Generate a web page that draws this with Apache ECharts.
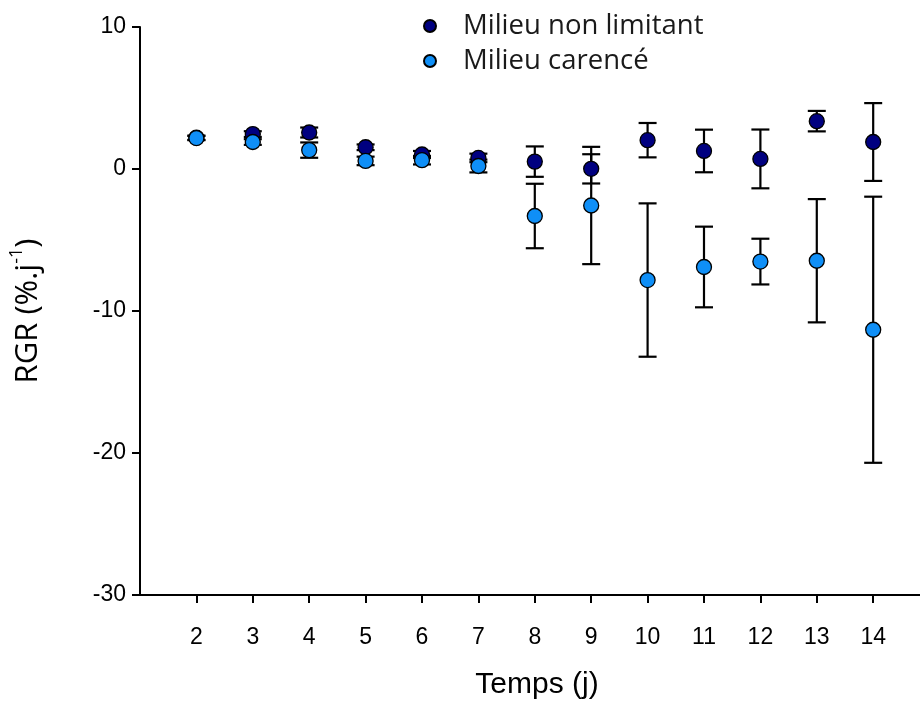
<!DOCTYPE html>
<html>
<head>
<meta charset="utf-8">
<script src="https://cdn.jsdelivr.net/npm/echarts@6/dist/echarts.min.js"></script>
<style>
  html, body { margin: 0; padding: 0; background: #fff; }
  #chart { width: 920px; height: 702px; }
</style>
</head>
<body>
<div id="chart"></div>
<script>
// Days of measurement
const days = [2, 3, 4, 5, 6, 7, 8, 9, 10, 11, 12, 13, 14];
// Relative growth rate, non-limiting medium (mean and error)
const nonLimitant = [2.2, 2.46, 2.57, 1.53, 1.02, 0.78, 0.52, 0.01, 2.03, 1.27, 0.71, 3.37, 1.9];
const nonLimitantErr = [0.15, 0.2, 0.35, 0.2, 0.25, 0.3, 1.07, 1.03, 1.21, 1.5, 2.07, 0.72, 2.74];
// Relative growth rate, deficient medium (mean and error)
const carence = [2.18, 1.9, 1.33, 0.57, 0.62, 0.21, -3.31, -2.57, -7.82, -6.9, -6.52, -6.46, -11.32];
const carenceErr = [0.15, 0.2, 0.54, 0.3, 0.3, 0.45, 2.27, 4.13, 5.4, 2.84, 1.61, 4.34, 9.37];
// Axis ticks
const xTicks = days;
const yTicks = [-30, -20, -10, 0, 10];

const DARK = '#000080';
const LIGHT = '#0f8ff7';
const AXIS_FONT = 'Liberation Sans, Arial, sans-serif';

function errorData(vals, errs) {
  return days.map((d, i) => [d, vals[i] - errs[i], vals[i] + errs[i]]);
}

function renderErrorBar(params, api) {
  const x = api.value(0);
  const lo = api.coord([x, api.value(1)]);
  const hi = api.coord([x, api.value(2)]);
  const half = 9;
  const style = { stroke: '#000', lineWidth: 2.2 };
  return {
    type: 'group',
    children: [
      { type: 'line', shape: { x1: hi[0], y1: hi[1], x2: lo[0], y2: lo[1] }, style },
      { type: 'line', shape: { x1: hi[0] - half, y1: hi[1], x2: hi[0] + half, y2: hi[1] }, style },
      { type: 'line', shape: { x1: lo[0] - half, y1: lo[1], x2: lo[0] + half, y2: lo[1] }, style }
    ]
  };
}

const chart = echarts.init(document.getElementById('chart'), null, { renderer: 'canvas' });

chart.setOption({
  animation: false,
  backgroundColor: '#fff',
  grid: {
    left: 140, right: 0, top: 27, bottom: 107,
    containLabel: false,
    outerBoundsMode: 'none'
  },
  legend: {
    orient: 'vertical',
    left: 418,
    top: 6,
    itemWidth: 12,
    itemHeight: 12,
    itemGap: 5,
    icon: 'circle',
    selectedMode: false,
    textStyle: {
      fontFamily: 'Open Sans, sans-serif',
      fontSize: 27.5,
      color: '#1a1a1a',
      lineHeight: 30,
      padding: [0, 0, 0, 22]
    },
    data: ['Milieu non limitant', 'Milieu carencé']
  },
  xAxis: {
    type: 'value',
    min: 1,
    max: 14.83,
    name: 'Temps (j)',
    nameLocation: 'middle',
    nameGap: 75,
    nameTextStyle: { fontFamily: AXIS_FONT, fontSize: 30, color: '#000', padding: [0, 0, 0, 14] },
    axisLine: { show: true, onZero: false, lineStyle: { color: '#000', width: 2 } },
    axisTick: { show: true, length: 8, customValues: xTicks, lineStyle: { color: '#000', width: 2 } },
    axisLabel: { customValues: xTicks, fontFamily: AXIS_FONT, fontSize: 23, color: '#000', margin: 31 },
    splitLine: { show: false }
  },
  yAxis: {
    type: 'value',
    min: -30,
    max: 10,
    interval: 10,
    name: '{a|RGR (%.j}{s|-1}{a|)}',
    nameLocation: 'middle',
    nameGap: 92,
    nameTextStyle: {
      rich: {
        a: { fontFamily: 'Open Sans, sans-serif', fontSize: 31, lineHeight: 40, color: '#000' },
        s: { fontFamily: 'Open Sans, sans-serif', fontSize: 18, lineHeight: 26, verticalAlign: 'top', color: '#000' }
      }
    },
    axisLine: { show: true, onZero: false, lineStyle: { color: '#000', width: 2 } },
    axisTick: { show: true, length: 8, customValues: yTicks, lineStyle: { color: '#000', width: 2 } },
    axisLabel: { customValues: yTicks, fontFamily: AXIS_FONT, fontSize: 23, color: '#000', margin: 14 },
    splitLine: { show: false }
  },
  series: [
    {
      name: 'err-nl', type: 'custom', z: 1, silent: true,
      renderItem: renderErrorBar,
      encode: { x: 0, y: [1, 2] },
      data: errorData(nonLimitant, nonLimitantErr)
    },
    {
      name: 'err-c', type: 'custom', z: 1, silent: true,
      renderItem: renderErrorBar,
      encode: { x: 0, y: [1, 2] },
      data: errorData(carence, carenceErr)
    },
    {
      name: 'Milieu non limitant', type: 'scatter', z: 3,
      symbol: 'circle', symbolSize: 15,
      itemStyle: { color: DARK, borderColor: '#000', borderWidth: 1.3, opacity: 1 },
      data: days.map((d, i) => [d, nonLimitant[i]])
    },
    {
      name: 'Milieu carencé', type: 'scatter', z: 4,
      symbol: 'circle', symbolSize: 15,
      itemStyle: { color: LIGHT, borderColor: '#000', borderWidth: 1.3, opacity: 1 },
      data: days.map((d, i) => [d, carence[i]])
    }
  ]
});
</script>
</body>
</html>
